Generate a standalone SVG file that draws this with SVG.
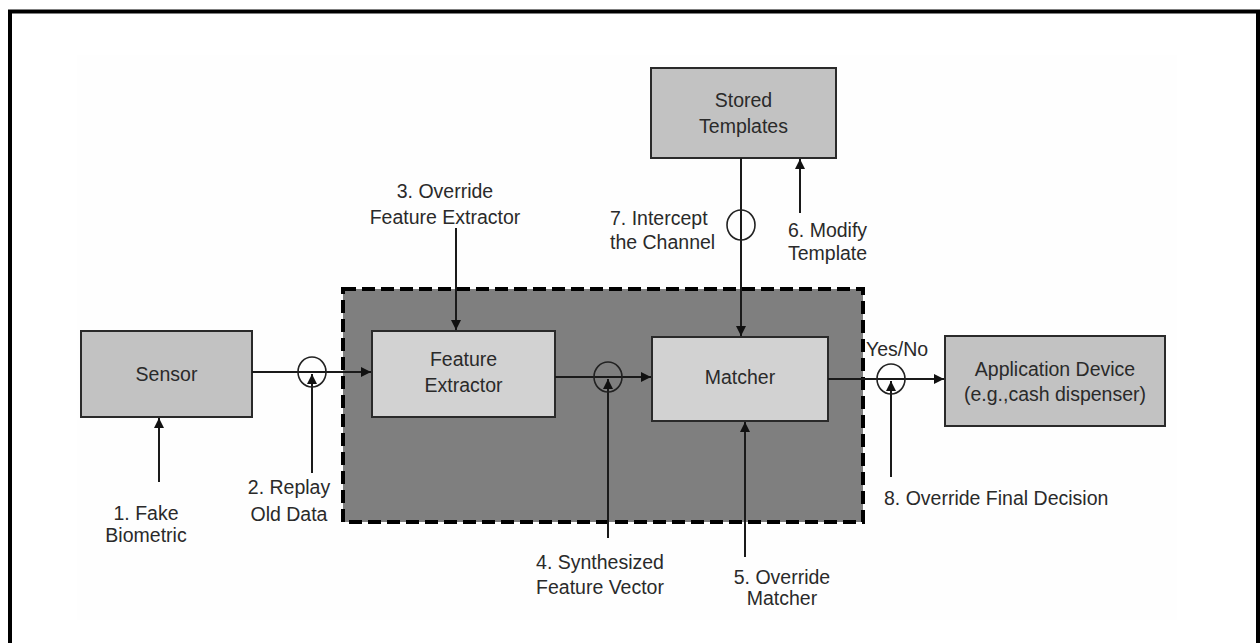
<svg xmlns="http://www.w3.org/2000/svg" width="1260" height="643" viewBox="0 0 1260 643">
<defs>
<marker id="ah" viewBox="0 0 10 10" refX="10" refY="5" markerWidth="10" markerHeight="10" markerUnits="userSpaceOnUse" orient="auto">
<path d="M0,0 L10,5 L0,10 z" fill="#111"/>
</marker>
<style>
.box{stroke:#2a2a2a;stroke-width:2}
.dark{fill:#c2c2c2}
.light{fill:#d2d2d2}
.ln{stroke:#1a1a1a;stroke-width:2;fill:none}
.arr{stroke:#1a1a1a;stroke-width:2;fill:none;marker-end:url(#ah)}
.ring{stroke:#222;stroke-width:1.6;fill:none}
text{font-family:"Liberation Sans",Arial,sans-serif;font-size:19.5px;fill:#2a2a2a}
.c{text-anchor:middle}
.r{text-anchor:end}
</style>
</defs>
<rect x="0" y="0" width="1260" height="643" fill="#fff"/>
<rect x="77" y="55" width="1100" height="565" fill="#fefefe"/>
<path d="M10,643 L10,11.5 L1258,11.5 L1258,643" fill="none" stroke="#000" stroke-width="4"/>

<g id="trusted-zone">
<rect x="343" y="289" width="520" height="233" fill="#7f7f7f" stroke="#000" stroke-width="4" stroke-dasharray="13,6"/>
</g>

<g id="sensor">
<rect class="box dark" x="81" y="331" width="171" height="86"/>
<text class="c" x="166.5" y="381">Sensor</text>
</g>
<g id="feature-extractor">
<rect class="box light" x="372" y="331" width="183" height="86"/>
<text class="c" x="463.5" y="366">Feature</text>
<text class="c" x="463.5" y="392">Extractor</text>
</g>
<g id="matcher">
<rect class="box light" x="652" y="337" width="176" height="84"/>
<text class="c" x="740" y="384">Matcher</text>
</g>
<g id="stored-templates">
<rect class="box dark" x="651" y="68" width="185" height="90"/>
<text class="c" x="743.5" y="107">Stored</text>
<text class="c" x="743.5" y="133">Templates</text>
</g>
<g id="application-device">
<rect class="box dark" x="945" y="336" width="220" height="90"/>
<text class="c" x="1055" y="376">Application Device</text>
<text class="c" x="1055" y="401">(e.g.,cash dispenser)</text>
</g>

<g id="connectors">
<line class="arr" x1="252" y1="372" x2="371" y2="372"/>
<line class="arr" x1="555" y1="377" x2="651" y2="377"/>
<line class="arr" x1="828" y1="379" x2="944" y2="379"/>
<line class="arr" x1="741" y1="158" x2="741" y2="336"/>
<line class="arr" x1="159" y1="482" x2="159" y2="418"/>
<line class="arr" x1="312" y1="473" x2="312" y2="374"/>
<line class="arr" x1="456" y1="228" x2="456" y2="330"/>
<line class="arr" x1="608" y1="538" x2="608" y2="379"/>
<line class="arr" x1="745" y1="557" x2="745" y2="422"/>
<line class="arr" x1="800" y1="213" x2="800" y2="159"/>
<line class="arr" x1="891" y1="477" x2="891" y2="381"/>
<ellipse class="ring" cx="312" cy="372" rx="14" ry="15"/>
<ellipse class="ring" cx="608" cy="377" rx="14" ry="15"/>
<ellipse class="ring" cx="891" cy="379" rx="14" ry="15"/>
<ellipse class="ring" cx="741" cy="225" rx="14" ry="15"/>
</g>

<g id="labels">
<text class="c" x="146" y="520">1. Fake</text>
<text class="c" x="146" y="542">Biometric</text>
<text class="c" x="289" y="494">2. Replay</text>
<text class="c" x="289" y="521">Old Data</text>
<text class="c" x="445" y="198">3. Override</text>
<text class="c" x="445" y="224">Feature Extractor</text>
<text class="c" x="600" y="569">4. Synthesized</text>
<text class="c" x="600" y="594">Feature Vector</text>
<text class="c" x="782" y="584">5. Override</text>
<text class="c" x="782" y="605">Matcher</text>
<text x="788" y="237">6. Modify</text>
<text x="788" y="260">Template</text>
<text x="610" y="225">7. Intercept</text>
<text x="610" y="249">the Channel</text>
<text x="866" y="356">Yes/No</text>
<text x="884" y="505">8. Override Final Decision</text>
</g>
</svg>
